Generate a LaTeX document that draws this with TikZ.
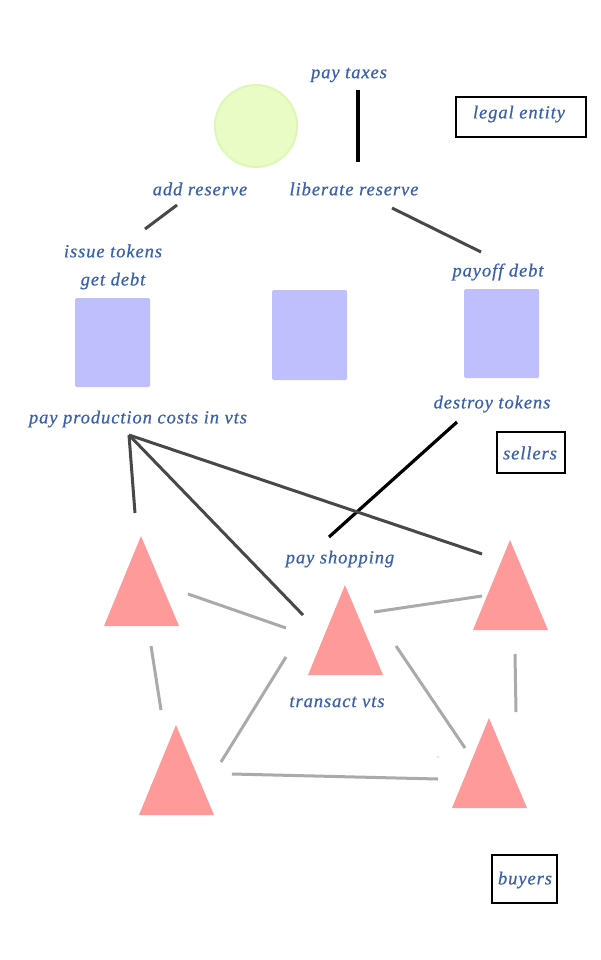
\documentclass[tikz,border=0pt]{standalone}
\usepackage{fontspec}
\setmainfont{Liberation Serif}
\newfontfamily\labfont[LetterSpace=5,FakeBold=0.6]{Liberation Serif}
\definecolor{labblue}{HTML}{3A5FAD}
\definecolor{reservefill}{HTML}{E9FCC6}
\definecolor{reservedraw}{HTML}{DEF8B4}
\definecolor{tokfill}{HTML}{BFBFFD}
\definecolor{agentfill}{HTML}{FE9A9A}
\definecolor{darkline}{HTML}{484848}
\definecolor{lightline}{HTML}{AAAAAA}
\tikzset{
  lab/.style={text=labblue, font=\labfont\itshape\fontsize{18.5}{21}\selectfont, inner sep=0pt, anchor=center},
  legendbox/.style={draw=black, line width=1.3pt},
  tokbox/.style={fill=tokfill, rounded corners=1.5pt},
  agent/.style={fill=agentfill},
  strongline/.style={draw=black, line width=3.2pt},
  darkconn/.style={draw=darkline, line width=3pt},
  lightconn/.style={draw=lightline, line width=3pt},
}
\begin{document}
\begin{tikzpicture}[x=1pt,y=-1pt]
\useasboundingbox (0,0) rectangle (600,960);
% reserve circle
\fill[reservefill, draw=reservedraw, line width=2pt] (256,126) circle (41);
% token boxes
\fill[tokbox] (75,298) rectangle (150,387);
\fill[tokbox] (272,290) rectangle (347,380);
\fill[tokbox] (464,289) rectangle (539,378);
% agents (triangles)
\fill[agent] (141,536) -- (179,626) -- (104,626) -- cycle;
\fill[agent] (345,585) -- (383,675) -- (308,675) -- cycle;
\fill[agent] (510,540) -- (548,630) -- (473,630) -- cycle;
\fill[agent] (176,725) -- (214,815) -- (139,815) -- cycle;
\fill[agent] (489,718) -- (527,808) -- (452,808) -- cycle;
% tiny dot
\fill[reservedraw] (438,757) circle (1.3);
% legend boxes
\draw[legendbox] (456,97) rectangle (586,137);
\node[lab] (legal) at (519,114) {legal entity};
\draw[legendbox] (497,432) rectangle (565,473);
\node[lab] (sellers) at (530,453) {sellers};
\draw[legendbox] (492,855) rectangle (557,903);
\node[lab] (buyers) at (525,880) {buyers};
% labels
\node[lab] (paytax) at (349,75) {pay taxes};
\node[lab] (addres) at (200,189) {add reserve};
\node[lab] (libres) at (354,189) {liberate reserve};
\node[lab] (issue) at (113,251) {issue tokens};
\node[lab] (getdebt) at (113,281) {get debt};
\node[lab] (payoff) at (498,272) {payoff debt};
\node[lab] (payprod) at (138,419) {pay production costs in vts};
\node[lab] (destroy) at (492,404) {destroy tokens};
\node[lab] (payshop) at (340,559) {pay shopping};
\node[lab] (transact) at (337,702) {transact vts};
% connector end points
\coordinate (taxA) at (358,90);
\coordinate (taxB) at (358,162);
\coordinate (addA) at (145,229);
\coordinate (addB) at (177,205);
\coordinate (libA) at (392,208);
\coordinate (libB) at (481,252);
\coordinate (desA) at (457,422);
\coordinate (desB) at (329,537);
\coordinate (prodO) at (129,435);
\coordinate (prodA) at (135,513);
\coordinate (prodB) at (303,615);
\coordinate (prodC) at (482,554);
\coordinate (g1a) at (188,594); \coordinate (g1b) at (286,628);
\coordinate (g2a) at (374,612); \coordinate (g2b) at (482,596);
\coordinate (g3a) at (151,646); \coordinate (g3b) at (161,710);
\coordinate (g4a) at (515,654); \coordinate (g4b) at (516,712);
\coordinate (g5a) at (286,657); \coordinate (g5b) at (221,762);
\coordinate (g6a) at (396,646); \coordinate (g6b) at (465,748);
\coordinate (g7a) at (232,774); \coordinate (g7b) at (438,779);
% connectors
\draw[strongline] (taxA) -- (taxB);
\draw[strongline] (desA) -- (desB);
\draw[darkconn] (addA) -- (addB);
\draw[darkconn] (libA) -- (libB);
\draw[darkconn] (prodO) -- (prodA);
\draw[darkconn] (prodO) -- (prodB);
\draw[darkconn] (prodO) -- (prodC);
\draw[lightconn] (g1a) -- (g1b);
\draw[lightconn] (g2a) -- (g2b);
\draw[lightconn] (g3a) -- (g3b);
\draw[lightconn] (g4a) -- (g4b);
\draw[lightconn] (g5a) -- (g5b);
\draw[lightconn] (g6a) -- (g6b);
\draw[lightconn] (g7a) -- (g7b);
\end{tikzpicture}
\end{document}
